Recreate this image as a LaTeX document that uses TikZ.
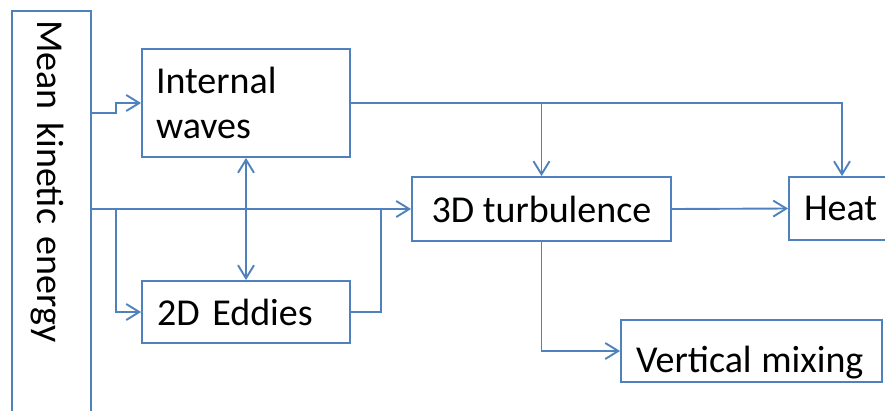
\documentclass[tikz,border=0pt]{standalone}
\usepackage{fontspec}
\setmainfont{Carlito}
\usetikzlibrary{arrows.meta}
\definecolor{lineblue}{RGB}{79,129,189}
\begin{document}
\begin{tikzpicture}[x=1pt,y=-1pt,
  box/.style={draw=lineblue, line width=1.9pt, inner sep=0pt,
    font=\fontsize{38}{45}\selectfont, text=black},
  conn/.style={draw=lineblue, line width=1.9pt},
  arr/.style={conn, -{Straight Barb[length=13pt,width=16pt]}},
  dblarr/.style={conn, {Straight Barb[length=13pt,width=16pt]}-{Straight Barb[length=13pt,width=16pt]}}
]
\useasboundingbox (0,0) rectangle (885,410);
\clip (0,0) rectangle (885,410);

\node[box, rotate=-90, minimum width=419pt, minimum height=79pt,
  text width=401pt, inner xsep=9pt, align=left,
  text height=29pt, text depth=0pt] (mke) at (51.5,220.5) {Mean kinetic energy};

\node[box, minimum width=208pt, minimum height=108pt,
  text width=180pt, inner xsep=14pt, align=left] (iw) at (246,103) {Internal\\waves};

\node[box, minimum width=208pt, minimum height=62pt,
  text width=178pt, inner xsep=15pt, align=left,
  text height=26pt, text depth=0pt] (eddy) at (246,312) {2D Eddies};

\node[box, minimum width=259pt, minimum height=64pt,
  text height=26pt, text depth=0pt] (tdt) at (541.5,209) {3D turbulence};

\node[box, minimum width=106pt, minimum height=63pt,
  text width=76pt, inner xsep=15pt, align=left,
  text height=24pt, text depth=0pt] (heat) at (842,208.5) {Heat};

\node[box, minimum width=261pt, minimum height=62pt,
  text width=231pt, inner xsep=15pt, align=left,
  text height=42pt, text depth=0pt] (vm) at (751.5,351) {Vertical\hspace{-0.08em} mixing};

\coordinate (b1) at (116,113);
\coordinate (b2) at (381,0);

% mean kinetic energy -> internal waves
\draw[arr] (mke.north |- b1) -- (b1) |- (iw.west);
% mean kinetic energy -> 3D turbulence
\draw[arr] (mke.north |- tdt.west) -- (tdt.west);
% branch -> 2D eddies
\draw[arr] (b1 |- tdt.west) |- (eddy.west);
% 2D eddies -> main line
\draw[conn] (eddy.east) -| (b2 |- tdt.west);
% internal waves <-> 2D eddies
\draw[dblarr] (iw.south) -- (eddy.north);
% internal waves -> heat and -> 3D turbulence
\draw[arr] (iw.east) -| (heat.north);
\draw[arr] (iw.east -| tdt.north) -- (tdt.north);
% 3D turbulence -> heat
\draw[arr] (tdt.east) -- (heat.west);
% 3D turbulence -> vertical mixing
\draw[arr] (tdt.south) |- (vm.west);
\end{tikzpicture}
\end{document}
